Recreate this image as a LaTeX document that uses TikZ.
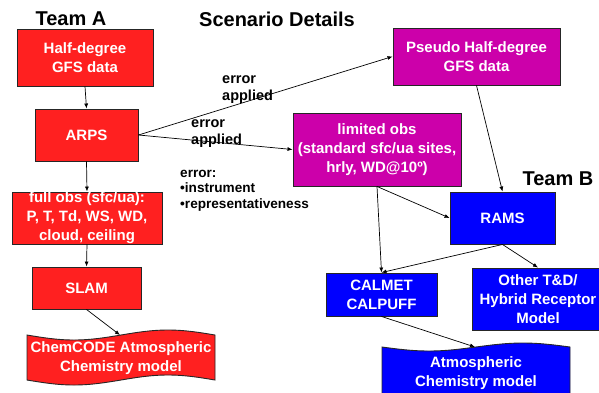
\documentclass[tikz,border=0pt]{standalone}
\usepackage{fontspec}
\setmainfont{Liberation Sans}
\usetikzlibrary{arrows.meta}
\definecolor{rd}{RGB}{255,32,32}
\definecolor{mg}{RGB}{204,0,170}
\definecolor{bl}{RGB}{0,0,255}
\begin{document}
\begin{tikzpicture}[x=1pt,y=-1pt,
  box/.style={draw=black!85, line width=0.9pt, text=white, align=center, inner sep=0pt,
    font=\bfseries\fontsize{15}{19}\selectfont},
  redbox/.style={box, fill=rd},
  magbox/.style={box, fill=mg},
  bluebox/.style={box, fill=bl},
  wave/.style={draw=black!85, line width=0.9pt},
  boxtext/.style={text=white, align=center, inner sep=0pt, font=\bfseries\fontsize{15}{19}\selectfont},
  title/.style={inner sep=0pt, font=\bfseries\fontsize{20}{24}\selectfont},
  lbl/.style={inner sep=0pt, align=left, font=\bfseries\fontsize{14.5}{16.5}\selectfont},
  note/.style={inner sep=0pt, align=left, font=\bfseries\fontsize{13.6}{15.5}\selectfont},
  conn/.style={line width=0.7pt, -{Latex[length=5pt,width=4pt]}}
]
\clip (0,0) rectangle (599,392);
\fill[white] (0,0) rectangle (599,392);

% titles
\node[title, anchor=base] (teamA) at (71,25) {Team A};
\node[title, anchor=base] (scen) at (277,26) {Scenario Details};
\node[title, anchor=base] (teamB) at (558,185) {Team B};

% Team A chain
\node[redbox, minimum width=136pt, minimum height=57pt] (half) at (85,57.5) {Half-degree\\GFS data};
\node[redbox, minimum width=103pt, minimum height=52pt] (arps) at (86.5,135) {ARPS};
\node[redbox, minimum width=150pt, minimum height=52pt] (full) at (87,218) {full obs (sfc/ua):\\P, T, Td, WS, WD,\\cloud, ceiling};
\node[redbox, minimum width=109pt, minimum height=42pt] (slam) at (86.5,288) {SLAM};

% ChemCODE wave shape
\fill[rd] (27,335) sin (74,340) cos (121,335) sin (168,330) cos (215,335)
  -- (215,380) sin (168,375) cos (121,380) sin (74,385) cos (27,380) -- cycle;
\draw[wave] (27,335) sin (74,340) cos (121,335) sin (168,330) cos (215,335)
  -- (215,380) sin (168,375) cos (121,380) sin (74,385) cos (27,380) -- cycle;
\coordinate (chemtop) at (120,335);
\node[boxtext] (chem) at (121,358) {ChemCODE Atmospheric\\Chemistry model};

% error note
\node[note, anchor=base west] (errnote) at (180,208) {error:\\•instrument\\•representativeness};

% magenta boxes
\node[magbox, minimum width=167pt, minimum height=57pt] (pseudo) at (476.5,56.5) {Pseudo Half-degree\\GFS data};
\node[magbox, minimum width=168pt, minimum height=73pt] (limited) at (377,149.5) {limited obs\\(standard sfc/ua sites,\\hrly, WD@10º)};

% blue boxes
\node[bluebox, minimum width=105pt, minimum height=52pt] (rams) at (502.5,218) {RAMS};
\node[bluebox, minimum width=111pt, minimum height=43pt] (calmet) at (381.5,294.5) {CALMET\\CALPUFF};
\node[bluebox, minimum width=132pt, minimum height=62pt] (other) at (538,299) {Other T\&D/\\Hybrid Receptor\\Model};

% Atmospheric wave shape
\fill[bl] (382,347) sin (429,351) cos (476,347) sin (523,343) cos (570,347)
  -- (570,397) sin (523,393) cos (476,397) sin (429,401) cos (382,397) -- cycle;
\draw[wave] (382,347) sin (429,351) cos (476,347) sin (523,343) cos (570,347)
  -- (570,397) sin (523,393) cos (476,397) sin (429,401) cos (382,397) -- cycle;
\coordinate (atmostop) at (475,347);
\node[boxtext] (atmos) at (476,373) {Atmospheric\\Chemistry model};

% labels on ARPS arrows
\node[lbl, anchor=base west] (lab1) at (222,100) {error\\applied};
\node[lbl, anchor=base west] (lab2) at (191,144) {error\\applied};

% connectors
\draw[conn] (half.south) -- (arps.north);
\draw[conn] (arps.south) -- (full.north);
\draw[conn] (full.south) -- (slam.north);
\draw[conn] (slam.south) -- (chemtop);
\draw[conn] (arps.east) -- (pseudo.west);
\draw[conn] (arps.east) -- (limited.west);
\draw[conn] (pseudo.south) -- (rams.north);
\draw[conn] (limited.south) -- (rams.west);
\draw[conn] (limited.south) -- (calmet.north);
\draw[conn] (rams.south) -- (calmet.north);
\draw[conn] (rams.south) -- (other.north);
\draw[conn] (calmet.south) -- (atmostop);
\end{tikzpicture}
\end{document}
